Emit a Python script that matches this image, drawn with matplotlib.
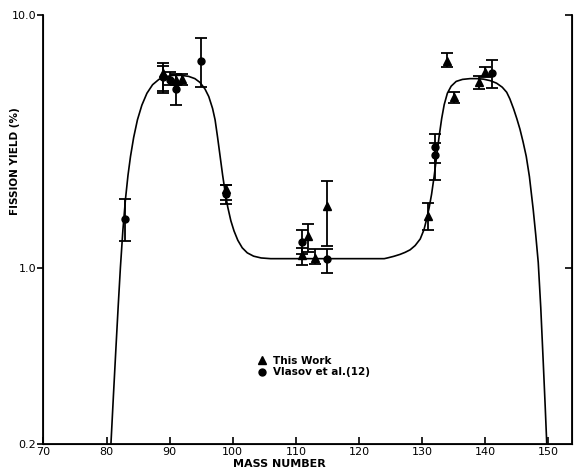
import matplotlib
matplotlib.use("Agg")
import matplotlib.pyplot as plt
from matplotlib.lines import Line2D
from matplotlib.ticker import FixedLocator, NullLocator, FixedFormatter

# fitted mass-yield curve
curve_mass = [80.7, 81.1, 81.5, 81.85, 82.2, 82.6, 83.0, 83.4, 83.8, 84.3, 84.9, 85.6,
              86.4, 87.3, 88.3, 89.4, 90.6, 91.8, 93.0, 94.0, 94.8, 95.6, 96.2, 96.8,
              97.2, 97.6, 98.0, 98.4, 98.8, 99.2, 99.7, 100.2, 100.8, 101.5, 102.3,
              103.3, 104.5, 106.0, 115.0, 124.0, 124.5, 125.5, 126.5, 127.3, 128.1,
              128.9, 129.7, 130.3, 130.7, 131.1, 131.5, 131.9, 132.3, 132.7, 133.1,
              133.5, 134.0, 134.6, 135.4, 136.4, 137.6, 138.7, 139.7, 140.8, 141.8,
              142.7, 143.4, 143.9, 144.5, 145.0, 145.5, 146.0, 146.5, 147.0, 147.6,
              148.0, 148.4, 148.8, 149.2, 149.5, 149.75]
curve_yield = [0.2, 0.313, 0.484, 0.703, 1.0, 1.413, 1.862, 2.317, 2.754, 3.273, 3.846, 4.395,
               4.898, 5.297, 5.559, 5.702, 5.768, 5.768, 5.715, 5.598, 5.408, 5.093, 4.753, 4.266,
               3.846, 3.273, 2.754, 2.317, 1.986, 1.738, 1.531, 1.396, 1.282, 1.197, 1.143,
               1.109, 1.091, 1.084, 1.084, 1.084, 1.091, 1.107, 1.127, 1.148, 1.175,
               1.222, 1.297, 1.413, 1.549, 1.718, 1.950, 2.291, 2.754, 3.311, 3.890,
               4.416, 4.898, 5.224, 5.458, 5.559, 5.598, 5.598, 5.572, 5.495, 5.370,
               5.176, 4.943, 4.656, 4.246, 3.890, 3.532, 3.141, 2.754, 2.291, 1.698,
               1.349, 1.047, 0.692, 0.417, 0.282, 0.2]

# This Work (triangles)
tw_mass = [89, 91, 92, 99, 111, 112, 113, 115, 131, 134, 135, 139, 140]
tw_yield = [5.9, 5.53, 5.57, 2.05, 1.12, 1.33, 1.09, 1.75, 1.6, 6.6, 4.73, 5.45, 5.97]
tw_lo = [4.9, 5.3, 5.29, 1.85, 1.02, 1.15, 1.03, 1.22, 1.41, 6.24, 4.5, 5.09, 5.67]
tw_hi = [6.45, 5.8, 5.83, 2.13, 1.2, 1.49, 1.18, 2.21, 1.8, 7.06, 4.97, 5.74, 6.24]

# Vlasov et al. (circles)
vl_mass = [83, 89, 90, 91, 95, 99, 111, 115, 132, 132, 141]
vl_yield = [1.56, 5.7, 5.55, 5.08, 6.6, 1.95, 1.26, 1.08, 3.0, 2.8, 5.91]
vl_lo = [1.27, 5.0, 5.3, 4.41, 5.17, 1.79, 1.13, 0.95, 2.6, 2.23, 5.13]
vl_hi = [1.86, 6.3, 5.95, 5.84, 8.1, 2.13, 1.41, 1.18, 3.39, 3.1, 6.63]

x_ticks = [70, 80, 90, 100, 110, 120, 130, 140, 150]
y_ticks = [0.2, 1.0, 10.0]
y_labels = ['0.2', '1.0', '10.0']

W, H = 575, 469
fig = plt.figure(figsize=(W / 100, H / 100), dpi=100)
ax = fig.add_axes([43.4 / W, 1 - 444 / H, (571.7 - 43.4) / W, (444 - 15) / H])

ax.plot(curve_mass, curve_yield, color='black', lw=1.2, zorder=2)

def err(vals, lo, hi):
    return [[v - l for v, l in zip(vals, lo)], [h - v for v, h in zip(vals, hi)]]

ax.errorbar(tw_mass, tw_yield, yerr=err(tw_yield, tw_lo, tw_hi), fmt='^', color='black',
            ms=6, capsize=4, elinewidth=1.3, capthick=1.3, zorder=3)
ax.errorbar(vl_mass, vl_yield, yerr=err(vl_yield, vl_lo, vl_hi), fmt='o', color='black',
            ms=5, capsize=4, elinewidth=1.3, capthick=1.3, zorder=3)

ax.set_yscale('log')
ax.set_xlim(70, 153.7)
ax.set_ylim(0.2, 10)
ax.yaxis.set_major_locator(FixedLocator(y_ticks))
ax.yaxis.set_major_formatter(FixedFormatter(y_labels))
ax.yaxis.set_minor_locator(NullLocator())
ax.set_xticks(x_ticks)

ax.spines['top'].set_visible(False)
for s in ['left', 'right', 'bottom']:
    ax.spines[s].set_linewidth(1.3)

ax.tick_params(axis='x', direction='in', length=5, width=1.2, labelsize=8, pad=2)
ax.tick_params(axis='y', direction='out', length=4, width=1.2, labelsize=8, pad=1)

# right side ticks point inward
ax2 = ax.twinx()
ax2.set_yscale('log')
ax2.set_ylim(0.2, 10)
ax2.yaxis.set_major_locator(FixedLocator([1.0, 10.0]))
ax2.yaxis.set_minor_locator(NullLocator())
ax2.tick_params(axis='y', direction='in', length=5, width=1.2, labelright=False)
ax2.spines['top'].set_visible(False)

ax.set_xlabel('MASS NUMBER', fontsize=8, fontweight='bold', labelpad=0)
ax.xaxis.set_label_coords(0.446, -0.035)
ax.set_ylabel('FISSION YIELD (%)', fontsize=7.5, fontweight='bold')
ax.yaxis.set_label_coords(-0.045, 0.66)

handles = [Line2D([], [], marker='^', color='black', ls='none', ms=6),
           Line2D([], [], marker='o', color='black', ls='none', ms=5)]
ax.legend(handles, ['This Work', 'Vlasov et al.(12)'], loc='upper left',
          bbox_to_anchor=(0.395, 0.218), frameon=False, handlelength=1.0,
          handletextpad=0.5, labelspacing=0.15, borderpad=0,
          prop={'size': 7.5, 'weight': 'bold'})

fig.savefig('out.png', dpi=100)
